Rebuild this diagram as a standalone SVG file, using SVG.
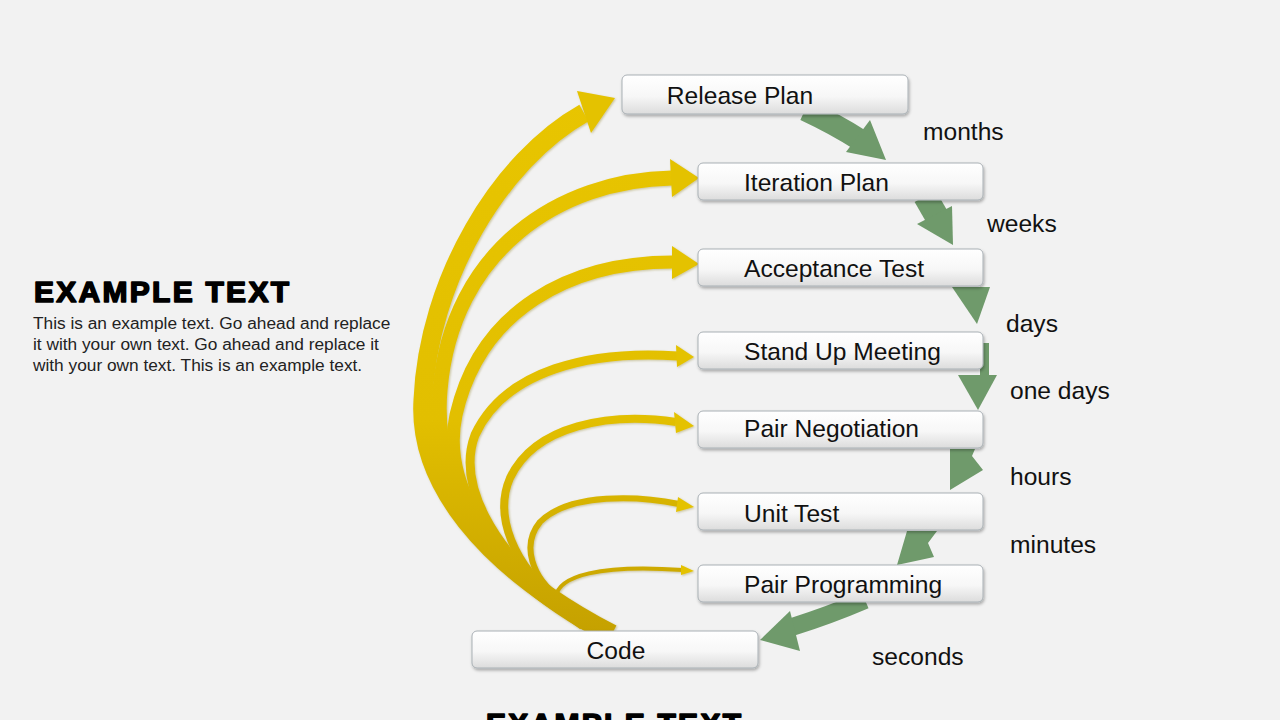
<svg xmlns="http://www.w3.org/2000/svg" width="1280" height="720" viewBox="0 0 1280 720">
<defs>
<linearGradient id="boxg" x1="0" y1="0" x2="0" y2="1">
<stop offset="0" stop-color="#ffffff"/><stop offset="0.55" stop-color="#f7f7f7"/><stop offset="1" stop-color="#dcdcdc"/>
</linearGradient>
<linearGradient id="yg" gradientUnits="userSpaceOnUse" x1="0" y1="90" x2="0" y2="640">
<stop offset="0" stop-color="#e8c500"/><stop offset="0.6" stop-color="#e2bf00"/><stop offset="1" stop-color="#c4a000"/>
</linearGradient>
<filter id="sh" x="-10%" y="-30%" width="120%" height="170%">
<feDropShadow dx="1" dy="2" stdDeviation="1.5" flood-color="#000" flood-opacity="0.3"/>
</filter>
<filter id="ysh" x="-10%" y="-10%" width="120%" height="120%">
<feDropShadow dx="1" dy="1" stdDeviation="1" flood-color="#7a6a00" flood-opacity="0.35"/>
</filter>
<style>
.box{fill:url(#boxg);stroke:#a9b0b5;stroke-width:1;filter:url(#sh)}
.bt{font-family:"Liberation Sans",Arial,sans-serif;font-size:24.6px;fill:#111}
.lbl{font-family:"Liberation Sans",Arial,sans-serif;font-size:24.6px;fill:#111}
.hd{font-family:"Liberation Sans",Arial,sans-serif;font-size:30px;font-weight:bold;fill:#000;stroke:#000;stroke-width:1.6;stroke-linejoin:round}
.ys{fill:none;stroke:url(#yg);stroke-linecap:butt}
.yh{fill:#e4c200}
.gr{fill:#6f9a6b}
.grs{fill:none;stroke:#6f9a6b;stroke-linecap:butt}
</style>
</defs>
<rect width="1280" height="720" fill="#f2f2f2"/>

<g id="left-text" font-family="'Liberation Sans',Arial,sans-serif">
<text class="hd" x="34" y="302" textLength="255" lengthAdjust="spacing">EXAMPLE TEXT</text>
<text x="33" y="329" font-size="17.3" fill="#222">This is an example text. Go ahead and replace</text>
<text x="33" y="350" font-size="17.3" fill="#222">it with your own text. Go ahead and replace it</text>
<text x="33" y="371" font-size="17.3" fill="#222">with your own text. This is an example text.</text>
</g>
<text class="hd" x="486" y="734" textLength="255" lengthAdjust="spacing">EXAMPLE TEXT</text>

<g id="connectors">
<g id="yellow" filter="url(#ysh)">
<path class="ys" stroke-width="19" d="M 612,634 C 480,565 418,480 423,400 C 428,280 500,160 584,113"/>
<polygon class="yh" points="577,91 615,98 591,133"/>
<path class="ys" stroke-width="15" d="M 598,630 C 470,560 433,470 440,390 C 452,250 560,180 672,178"/>
<polygon class="yh" points="670,159 699,178 672,197"/>
<path class="ys" stroke-width="13" d="M 584,624 C 470,545 444,470 456,415 C 480,310 570,262 673,262"/>
<polygon class="yh" points="672,246 699,264 672,279"/>
<path class="ys" stroke-width="9" d="M 572,614 C 485,545 458,480 475,435 C 505,370 590,350 678,356"/>
<polygon class="yh" points="676,345 694,357 677,367"/>
<path class="ys" stroke-width="8" d="M 562,604 C 512,565 494,515 510,478 C 535,425 610,412 676,422"/>
<polygon class="yh" points="674,412 694,426 676,433"/>
<path class="ys" stroke-width="6" d="M 560,598 C 532,578 521,545 540,522 C 570,492 640,496 679,504"/>
<polygon class="yh" points="678,497 694,507 676,512"/>
<path class="ys" stroke-width="4" d="M 556,597 C 558,576 600,564 683,570"/>
<polygon class="yh" points="681,565 694,571 681,575"/>
</g>
<g id="green">
<path class="grs" stroke-width="22" d="M 805,110 Q 835,124 860,140"/>
<polygon class="gr" points="846,152 870,120 886,160"/>
<path class="grs" stroke-width="24" d="M 925,196 L 940,222"/>
<polygon class="gr" points="917,224 952,206 953,245"/>
<polygon class="gr" points="952,287 990,287 977,324"/>
<rect class="gr" x="980" y="343" width="9" height="33"/>
<polygon class="gr" points="958,375 997,375 978,410"/>
<polygon class="gr" points="950,449 975,449 972,456 983,470 950,490"/>
<polygon class="gr" points="907,531 937,531 928,543 934,557 897,565"/>
<path class="grs" stroke-width="18" d="M 865,600 Q 830,615 792,627"/>
<polygon class="gr" points="790,611 760,640 800,651"/>
</g>
</g>

<g id="n-release"><rect class="box" x="622" y="75" width="286" height="39" rx="5"/><text class="bt" x="740" y="104" text-anchor="middle">Release Plan</text></g>
<g id="n-iteration"><rect class="box" x="698" y="163" width="285" height="37" rx="5"/><text class="bt" x="744" y="191">Iteration Plan</text></g>
<g id="n-acceptance"><rect class="box" x="698" y="249" width="285" height="37" rx="5"/><text class="bt" x="744" y="277">Acceptance Test</text></g>
<g id="n-standup"><rect class="box" x="698" y="332" width="285" height="37" rx="5"/><text class="bt" x="744" y="360">Stand Up Meeting</text></g>
<g id="n-pairneg"><rect class="box" x="698" y="411" width="285" height="37" rx="5"/><text class="bt" x="744" y="437">Pair Negotiation</text></g>
<g id="n-unittest"><rect class="box" x="698" y="493" width="285" height="37" rx="5"/><text class="bt" x="744" y="522">Unit Test</text></g>
<g id="n-pairprog"><rect class="box" x="698" y="565" width="285" height="37" rx="5"/><text class="bt" x="744" y="593">Pair Programming</text></g>
<g id="n-code"><rect class="box" x="472" y="631" width="286" height="37" rx="5"/><text class="bt" x="616" y="659" text-anchor="middle">Code</text></g>

<g id="labels">
<text class="lbl" x="923" y="140">months</text>
<text class="lbl" x="987" y="232">weeks</text>
<text class="lbl" x="1006" y="332">days</text>
<text class="lbl" x="1010" y="399">one days</text>
<text class="lbl" x="1010" y="485">hours</text>
<text class="lbl" x="1010" y="553">minutes</text>
<text class="lbl" x="872" y="665">seconds</text>
</g>
</svg>
